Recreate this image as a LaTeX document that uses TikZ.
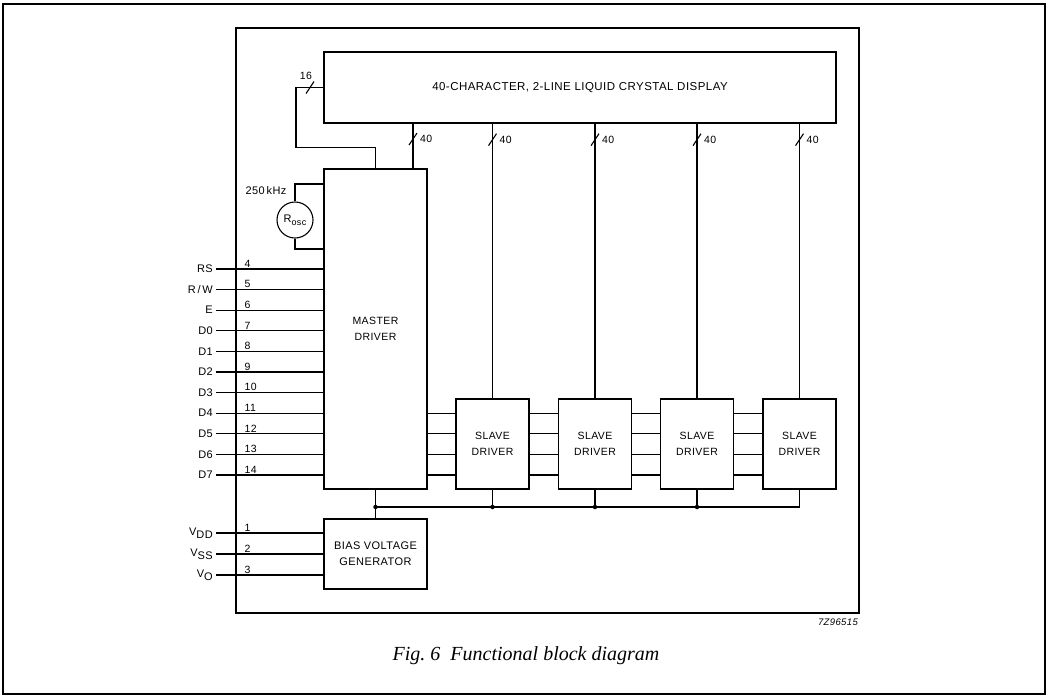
\documentclass[tikz,border=0pt]{standalone}
\usepackage{fontspec}
\setmainfont[LetterSpace=4]{Liberation Sans}
\newfontfamily\capfont{Liberation Serif}
\usetikzlibrary{positioning,calc}
\tikzset{block/.style={draw,line width=1.3pt,align=center,font=\fontsize{10.5}{16}\selectfont,inner sep=0pt},
  slavebox/.style={block,minimum width=73pt,minimum height=90pt},
  wire/.style={line width=1.1pt},
  pinlab/.style={anchor=east,font=\fontsize{11}{13}\selectfont,inner sep=3pt},
  pinnum/.style={anchor=south west,font=\fontsize{10.5}{12}\selectfont,inner sep=1.5pt},
  buslab/.style={anchor=west,font=\fontsize{10.5}{12}\selectfont,inner sep=1pt},
  busmark/.pic={\draw[wire] (-4,6)--(4,-6);},
  joint/.style={circle,fill,inner sep=0pt,minimum size=4.5pt}}

\begin{document}
\begin{tikzpicture}[x=1pt,y=-1pt]
\useasboundingbox (0,0) rectangle (1048,697);
\draw[line width=1.1pt] (3,4) rectangle (1045,694);
\draw[line width=1.3pt] (236,28) rectangle (859,613);
\node[block,minimum width=512pt,minimum height=71pt,font=\fontsize{11.5}{14}\selectfont] (lcd) at (580,87.5)
{40-CHARACTER, 2-LINE LIQUID CRYSTAL DISPLAY};
\node[block,minimum width=103pt,minimum height=320pt] (master) at (375.5,329)
{MASTER\\DRIVER};
\node[slavebox] (slaveA) at (492.5,444) {SLAVE\\DRIVER};
\node[slavebox] (slaveB) at (595,444) {SLAVE\\DRIVER};
\node[slavebox] (slaveC) at (697,444) {SLAVE\\DRIVER};
\node[slavebox] (slaveD) at (799.5,444) {SLAVE\\DRIVER};
\node[block,minimum width=103pt,minimum height=70pt,font=\fontsize{11}{16}\selectfont] (bias) at (375.5,554)
{BIAS VOLTAGE\\GENERATOR};
\node[draw,wire,circle,minimum size=36pt,inner sep=0pt,font=\fontsize{11}{12}\selectfont] (rosc) at (295,220)
{R\raisebox{-0.5ex}{\fontsize{9}{10}\selectfont osc}};
\node[anchor=south,font=\fontsize{11}{12}\selectfont,inner sep=2pt] (freq) at (266,197) {250\,kHz};
% display bus from master
\draw[wire] (lcd.west) -| (296,147.5) -| (master.north);
\pic at (310,87.5) {busmark};
\node[anchor=south,font=\fontsize{10.5}{12}\selectfont,inner sep=1pt] (n16) at (306,81) {16};
\draw[wire] (413,0 |- lcd.south) -- (413,0 |- master.north);
\pic at (413,139) {busmark};
\node[buslab] at (419,139) {40};
\foreach \s in {slaveA,slaveB,slaveC,slaveD}{
  \draw[wire] (\s.north |- lcd.south) -- (\s.north);
  \pic at ($(\s.north |- lcd.south)+(0,16)$) {busmark};
  \node[buslab] at ($(\s.north |- lcd.south)+(6,16)$) {40};
}
% oscillator
\draw[wire] (master.west |- 0,184) -| (rosc.north);
\draw[wire] (rosc.south) |- (master.west |- 0,249);
% pins
\foreach \lab/\num/\y in {RS/4/269,{R\,/\,W}/5/289.6,E/6/310.2,D0/7/330.8,D1/8/351.4,D2/9/372,D3/10/392.6,D4/11/413.2,D5/12/433.8,D6/13/454.4,D7/14/475}{
  \coordinate (p\num) at (216,\y);
  \draw[wire] (p\num) -- (master.west |- p\num);
  \node[pinlab] at (p\num) {\lab};
  \node[pinnum] at (243,\y) {\num};
}
\foreach \lab/\num/\y in {V\raisebox{-0.45ex}{DD}/1/533,V\raisebox{-0.45ex}{SS}/2/554,V\raisebox{-0.45ex}{O}/3/575}{
  \coordinate (p\num) at (216,\y);
  \draw[wire] (p\num) -- (bias.west |- p\num);
  \node[pinlab] at (p\num) {\lab};
  \node[pinnum] at (243,\y) {\num};
}
% data lines to slaves
\foreach \y in {413.2,433.8,454.4,475}{
  \draw[wire] (master.east |- 0,\y) -- (slaveA.west |- 0,\y);
  \draw[wire] (slaveA.east |- 0,\y) -- (slaveB.west |- 0,\y);
  \draw[wire] (slaveB.east |- 0,\y) -- (slaveC.west |- 0,\y);
  \draw[wire] (slaveC.east |- 0,\y) -- (slaveD.west |- 0,\y);
}
% bias distribution
\draw[wire] (master.south) -- (bias.north);
\coordinate (rail) at (375.5,507);
\draw[wire] (rail) -| (slaveD.south);
\node[joint] at (rail) {};
\foreach \s in {slaveA,slaveB,slaveC}{
  \draw[wire] (\s.south) -- (\s.south |- rail);
  \node[joint] at (\s.south |- rail) {};
}
\node[anchor=north east,font=\fontsize{9.5}{10}\selectfont\itshape,inner sep=0pt] (ref) at (858,619) {7Z96515};
\node[font=\capfont\fontsize{20}{22}\selectfont\itshape] (cap) at (526,656) {Fig.~6\enspace Functional block diagram};
\end{tikzpicture}
\end{document}
